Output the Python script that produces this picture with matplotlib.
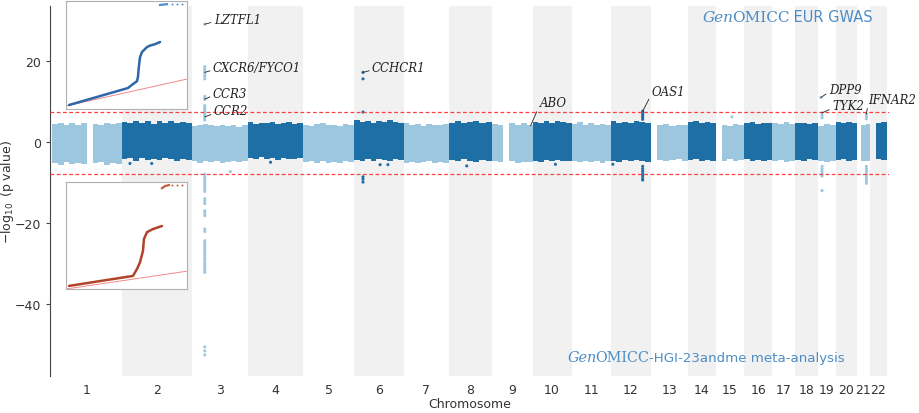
import numpy as np
import matplotlib.pyplot as plt

nan = np.nan

# chromosome widths on the plot (Mb)
chrom_names = [str(c) for c in range(1, 23)]
chrom_size = [240, 242, 193, 191, 176, 172, 155, 148, 141, 135, 135, 138,
              128, 97, 97, 97, 79, 79, 62, 72, 45, 59]

# bulk of the SNPs: upper / lower envelope per ~20 Mb bin (nan = no SNPs)
band_top = [
    [4.4, 4.8, 4.1, 4.6, 4.3, 4.7, nan, 4.5, 4.2, 4.8, 4.4, 4.6],
    [5.0, 4.6, 5.3, 4.7, 5.1, 4.5, 5.2, 4.8, 5.3, 4.6, 5.0, 4.7],
    [4.0, 4.3, 4.4, 4.1, 3.9, 4.2, 4.0, 4.3, 3.8, 4.1],
    [4.9, 4.5, 4.8, 4.6, 5.0, 4.4, 4.7, 4.9, 4.5, 4.6],
    [4.2, 4.0, 4.4, 4.6, 4.1, 4.3, 3.9, 4.5, 4.2],
    [5.5, 5.0, 5.3, 4.8, 5.2, 4.9, 5.4, 5.0, 4.7],
    [4.6, 4.2, 4.4, 4.0, 4.5, 4.3, 4.1, 4.4],
    [4.8, 5.2, 4.6, 4.9, 5.1, 4.7, 5.0],
    [4.5, 4.2, nan, 4.6, 4.3, 4.7, 4.1],
    [5.0, 4.8, 5.2, 4.7, 5.1, 4.9, 4.6],
    [4.4, 4.9, 4.3, 4.6, 4.2, 4.5, 4.3],
    [5.1, 4.8, 5.0, 4.7, 5.3, 4.9, 4.8],
    [nan, 4.2, 4.5, 4.0, 4.3, 4.1],
    [4.9, 5.1, 4.7, 5.0, 4.8],
    [nan, 4.3, 4.0, 4.4, 4.2],
    [4.6, 4.9, 4.5, 4.8, 4.7],
    [4.8, 4.4, 4.9, 4.5],
    [4.6, 4.8, 4.5, 4.7],
    [4.0, 4.4, 4.2],
    [5.0, 4.7, 4.9, 4.8],
    [nan, 4.3, 4.4],
    [nan, 4.6, 4.9],
]
band_bot = [
    [-5.2, -5.6, -5.0, -5.4, -5.1, -5.5, nan, -5.3, -5.0, -5.6, -5.2, -5.4],
    [-4.3, -4.0, -4.6, -3.9, -4.4, -4.2, -4.5, -4.0, -4.3, -4.6, -4.1, -4.4],
    [-4.8, -5.1, -4.6, -5.0, -4.7, -5.2, -4.9, -4.6, -5.0, -4.8],
    [-4.0, -4.3, -3.8, -4.2, -4.0, -4.4, -3.9, -4.1, -4.3, -4.0],
    [-5.0, -4.7, -5.2, -4.8, -5.1, -4.9, -5.3, -4.8, -5.0],
    [-4.4, -4.6, -4.2, -4.7, -4.3, -4.5, -4.8, -4.2, -4.4],
    [-5.1, -4.9, -5.3, -5.0, -4.8, -5.2, -4.9, -5.1],
    [-4.5, -4.8, -4.3, -4.6, -4.9, -4.4, -4.6],
    [-4.8, -5.0, nan, -4.7, -5.1, -4.9, -5.0],
    [-4.6, -4.9, -4.4, -4.7, -4.5, -4.8, -4.6],
    [-4.7, -5.0, -4.6, -4.9, -4.8, -5.1, -4.7],
    [-4.6, -4.9, -4.4, -4.8, -4.5, -4.7, -4.9],
    [nan, -4.4, -4.7, -4.5, -4.3, -4.6],
    [-4.5, -4.2, -4.7, -4.4, -4.6],
    [nan, -4.6, -4.3, -4.7, -4.5],
    [-4.3, -4.6, -4.4, -4.7, -4.5],
    [-4.8, -4.5, -4.9, -4.6],
    [-4.4, -4.6, -4.3, -4.5],
    [-4.7, -4.9, -4.6],
    [-4.5, -4.3, -4.6, -4.4],
    [nan, -4.8, -4.6],
    [nan, -4.3, -4.5],
]

# GenOMICC EUR GWAS: individual SNPs above the bulk
top_chr = [3] * 21 + [6] * 3 + [12] * 6 + [19] * 4 + [21] * 3 + [15]
top_pos = [45] * 21 + [31] * 3 + [110] * 6 + [10, 14, 14, 14] + [33] * 3 + [55]
top_val = [29.1, 18.6, 18.1, 17.6, 17.2, 16.7, 16.2, 15.6, 11.3, 10.9, 10.5,
           9.0, 8.6, 8.2, 7.8, 7.4, 7.0, 6.6, 6.2, 5.8, 5.4,
           17.2, 15.6, 7.4,
           7.6, 7.2, 6.8, 6.4, 6.0, 5.6,
           11.0, 7.2, 6.6, 6.0,
           6.9, 6.3, 5.7,
           6.2]

# GenOMICC-HGI-23andme meta-analysis: individual SNPs below the bulk
bot_chr = [3] * 34 + [6] * 3 + [12] * 7 + [19] * 6 + [21] * 8 + [2, 2, 4, 6, 6, 8, 10, 12]
bot_pos = [45] * 33 + [133] + [31] * 3 + [110] * 7 + [14] * 6 + [33] * 8 + [29, 104, 79, 90, 117, 62, 79, 7]
bot_val = [-8.0, -8.6, -9.2, -9.8, -10.4, -11.0, -11.6, -12.2, -14.0, -14.6, -15.2,
           -17.0, -17.6, -18.2, -21.5, -22.1, -24.4, -25.0, -25.6, -26.2, -26.8,
           -27.4, -28.0, -28.6, -29.2, -29.8, -30.4, -31.0, -31.6, -32.2,
           -50.6, -51.6, -52.6,
           -7.3,
           -8.6, -9.2, -9.9,
           -6.0, -6.6, -7.2, -7.8, -8.4, -9.0, -9.4,
           -6.0, -6.6, -7.2, -7.8, -8.4, -12.0,
           -6.0, -6.6, -7.2, -7.8, -8.4, -9.0, -9.6, -10.2,
           -5.3, -5.3, -5.0, -5.6, -5.6, -5.9, -5.5, -5.5]

gene_names = ["LZTFL1", "CXCR6/FYCO1", "CCR3", "CCR2", "CCHCR1", "ABO",
              "OAS1", "DPP9", "TYK2", "IFNAR2"]
gene_chr = [3, 3, 3, 3, 6, 9, 12, 19, 19, 21]
gene_pos = [45, 45, 45, 45, 31, 134, 110, 10, 14, 33]
gene_val = [29.1, 17.2, 10.6, 6.2, 17.2, 4.0, 7.6, 11.0, 7.2, 6.9]
gene_offset = [(9, 5), (8, 5), (8, 6), (9, 6), (9, 5), (9, 23), (9, 20),
               (8, 8), (10, 7), (2, 15)]

# QQ insets (expected vs observed -log10 p)
qq_eur_exp = [0.19, 3.84, 4.15, 4.40, 4.46, 4.52, 4.59, 4.71, 5.02, 5.21, 5.52, 5.83]
qq_eur_obs = [0.28, 5.0, 6.1, 6.9, 8.1, 11.1, 13.6, 15.0, 16.4, 16.8, 17.2, 17.8]
qq_eur_tail_exp = [5.83, 6.01, 6.26, 6.57, 6.88, 7.19]
qq_eur_tail_obs = [28.1, 28.2, 28.3, 28.3, 28.3, 28.3]
qq_meta_exp = [0.19, 4.15, 4.40, 4.59, 4.77, 4.83, 5.02, 5.39, 5.95]
qq_meta_obs = [1.3, 5.5, 8.4, 11.3, 16.0, 21.0, 23.9, 25.2, 26.5]
qq_meta_tail_exp = [5.95, 6.14, 6.38, 6.57, 6.88, 7.19]
qq_meta_tail_obs = [42.4, 43.3, 43.7, 43.7, 43.7, 43.7]

light = '#9dc7df'
dark = '#1d6fa5'
gray = '#f1f1f1'
logo_blue = '#4d8dc6'

cum_start = np.concatenate([[0], np.cumsum(chrom_size)[:-1]])
centers = cum_start + np.array(chrom_size) / 2
total = sum(chrom_size)

fig = plt.figure(figsize=(9.19, 4.14), dpi=100)
ax = fig.add_axes([50 / 919, 37 / 414, 839 / 919, 370 / 414])

for i, size in enumerate(chrom_size):
    col = dark if i % 2 else light
    if i % 2:
        ax.axvspan(cum_start[i], cum_start[i] + size, color=gray, lw=0, zorder=0)
    top = np.array(band_top[i])
    bot = np.array(band_bot[i])
    n = len(top)
    w = size / n
    x = cum_start[i] + (np.arange(n) + 0.5) * w
    ok = ~np.isnan(top)
    ax.bar(x[ok], top[ok] - bot[ok], bottom=bot[ok], width=w, color=col,
           lw=0, zorder=2)


def pt_colors(chrs):
    return [dark if c % 2 == 0 else light for c in chrs]


tx = [cum_start[c - 1] + p for c, p in zip(top_chr, top_pos)]
ax.scatter(tx, top_val, s=5, c=pt_colors(top_chr), lw=0, zorder=3)
bx = [cum_start[c - 1] + p for c, p in zip(bot_chr, bot_pos)]
ax.scatter(bx, bot_val, s=5, c=pt_colors(bot_chr), lw=0, zorder=3)

ax.axhline(7.3, color='#ff4040', ls=(0, (3, 2)), lw=0.9, zorder=4)
ax.axhline(-8.0, color='#ff4040', ls=(0, (3, 2)), lw=0.9, zorder=4)

for name, c, p, v, off in zip(gene_names, gene_chr, gene_pos, gene_val, gene_offset):
    ax.annotate(name, xy=(cum_start[c - 1] + p, v), xytext=off,
                textcoords='offset pixels', ha='left', va='center',
                fontsize=8.5, family='DejaVu Serif', style='italic', color='#222222',
                arrowprops=dict(arrowstyle='-', color='#222222', lw=0.6,
                                shrinkA=0, shrinkB=0, relpos=(0, 0.3)),
                zorder=5)

ax.set_xlim(-7, total + 7)
ax.set_ylim(-57.8, 33.6)
ax.set_xticks(centers)
ax.set_xticklabels(chrom_names)
ax.set_yticks([-40, -20, 0, 20])
ax.tick_params(axis='x', length=0, labelsize=9, labelcolor='#333333', pad=5)
ax.tick_params(axis='y', length=3, width=0.8, labelsize=9, labelcolor='#333333', color='#444444')
for s in ['top', 'right', 'bottom']:
    ax.spines[s].set_visible(False)
ax.spines['left'].set_color('#444444')
ax.spines['left'].set_linewidth(0.8)
ax.set_xlabel('Chromosome', fontsize=9, color='#333333', labelpad=1)
ax.set_ylabel(r'$-\log_{10}$ (p value)', fontsize=9, color='#333333')
ax.yaxis.set_label_coords(-34 / 839, 0.5)

# QQ insets
qq1 = fig.add_axes([66 / 919, 1 - 110 / 414, 121 / 919, 108 / 414])
qq1.plot([0, 7.5], [0, 7.5], color='#f08a8a', lw=0.7)
qq1.plot(qq_eur_exp, qq_eur_obs, color='#2f66a8', lw=1.8, solid_capstyle='round')
qq1.plot(qq_eur_tail_exp[:3], qq_eur_tail_obs[:3], color='#4a8fd0', lw=1.6)
qq1.scatter(qq_eur_tail_exp[3:], qq_eur_tail_obs[3:], s=2, color='#4a8fd0', lw=0)
qq1.set_xlim(0, 7.5)
qq1.set_ylim(-0.83, 29.2)

qq2 = fig.add_axes([66 / 919, 1 - 290 / 414, 121 / 919, 107 / 414])
qq2.plot([0, 7.5], [0, 7.5], color='#f08a8a', lw=0.7)
qq2.plot(qq_meta_exp, qq_meta_obs, color='#b0432a', lw=1.8, solid_capstyle='round')
qq2.plot(qq_meta_tail_exp[:3], qq_meta_tail_obs[:3], color='#c0603a', lw=1.6)
qq2.scatter(qq_meta_tail_exp[3:], qq_meta_tail_obs[3:], s=2, color='#c0603a', lw=0)
qq2.set_xlim(0, 7.5)
qq2.set_ylim(0, 45)

for q in (qq1, qq2):
    q.set_xticks([])
    q.set_yticks([])
    for s in q.spines.values():
        s.set_color('#b0b0b0')
        s.set_linewidth(0.8)


def logo(x, y, rest, size_serif, size_sans):
    t1 = ax.annotate('Gen', xy=(x / 919, 1 - y / 414), xycoords='figure fraction',
                     ha='left', va='center', fontsize=size_serif, family='DejaVu Serif',
                     style='italic', color=logo_blue, annotation_clip=False)
    t2 = ax.annotate('OMICC', xy=(0.93, 0), xycoords=t1, ha='left', va='bottom',
                     fontsize=size_serif, family='DejaVu Serif', color=logo_blue,
                     annotation_clip=False)
    ax.annotate(rest, xy=(1, 0), xycoords=t2, ha='left', va='bottom',
                fontsize=size_sans, family='DejaVu Sans', color=logo_blue,
                annotation_clip=False)


logo(703, 18, ' EUR GWAS', 11, 10.5)
logo(568, 358, '-HGI-23andme meta-analysis', 10.4, 9.6)

fig.savefig('out.png', dpi=100)
